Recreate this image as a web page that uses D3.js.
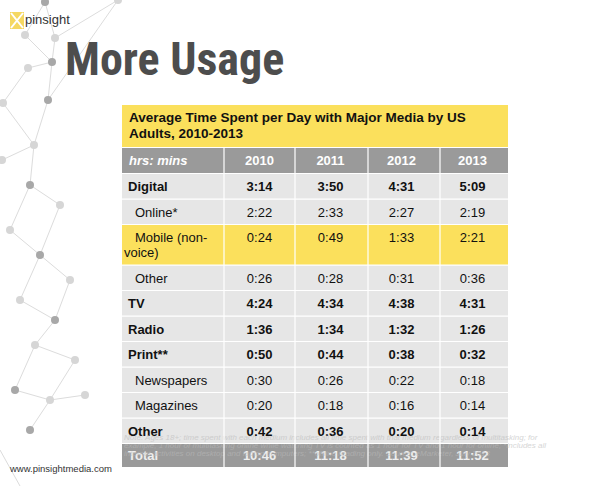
<!DOCTYPE html>
<html><head><meta charset="utf-8">
<script src="https://cdn.jsdelivr.net/npm/d3@7"></script>
<style>body{margin:0;background:#fff}svg{display:block}</style>
</head><body>
<script>
// table data
var years = ['2010', '2011', '2012', '2013'];
var rowLabels = ['Digital', 'Online*', 'Mobile (non-\nvoice)', 'Other', 'TV', 'Radio', 'Print**', 'Newspapers', 'Magazines', 'Other'];
var rowBold = [true, false, false, false, true, true, true, false, false, true];
var rowIndent = [false, true, true, true, false, false, false, true, true, false];
var rowValues = [
  ['3:14', '3:50', '4:31', '5:09'],
  ['2:22', '2:33', '2:27', '2:19'],
  ['0:24', '0:49', '1:33', '2:21'],
  ['0:26', '0:28', '0:31', '0:36'],
  ['4:24', '4:34', '4:38', '4:31'],
  ['1:36', '1:34', '1:32', '1:26'],
  ['0:50', '0:44', '0:38', '0:32'],
  ['0:30', '0:26', '0:22', '0:18'],
  ['0:20', '0:18', '0:16', '0:14'],
  ['0:42', '0:36', '0:20', '0:14']
];
var totals = ['10:46', '11:18', '11:39', '11:52'];

var W = 599, H = 486;
var svg = d3.select('body').append('svg').attr('width', W).attr('height', H);
var font = 'Helvetica, "Liberation Sans", Arial, sans-serif';

// decorative network in the background
var nodes = [[45,2],[25,35],[55,38],[52,62],[28,68],[3,103],[48,100],[34,145],[2,160],[30,185],[60,205],[10,230],[40,255],[70,280],[20,300],[55,320],[35,345],[75,360],[15,390],[50,400],[85,395],[30,430],[118,0]];
var links = [[0,1],[0,2],[1,3],[2,3],[3,4],[4,5],[3,6],[6,7],[5,7],[7,8],[7,9],[9,10],[9,11],[10,12],[11,12],[12,13],[12,14],[13,15],[14,15],[15,16],[16,17],[16,18],[17,19],[18,19],[19,20],[19,21],[2,22],[6,22]];
var deco = svg.append('g');
deco.selectAll('line').data(links).join('line')
  .attr('x1', function (d) { return nodes[d[0]][0]; }).attr('y1', function (d) { return nodes[d[0]][1]; })
  .attr('x2', function (d) { return nodes[d[1]][0]; }).attr('y2', function (d) { return nodes[d[1]][1]; })
  .attr('stroke', '#dcdcdc').attr('stroke-width', 1);
deco.selectAll('circle').data(nodes).join('circle')
  .attr('cx', function (d) { return d[0]; }).attr('cy', function (d) { return d[1]; })
  .attr('r', 4).attr('fill', function (d, i) { return i % 3 ? '#d6d6d6' : '#a8a8a8'; });
deco.append('line').attr('x1', 0).attr('y1', 450).attr('x2', 20).attr('y2', 486).attr('stroke', '#dcdcdc');

// logo
svg.append('rect').attr('x', 10).attr('y', 12).attr('width', 14).attr('height', 17).attr('fill', '#f5d862');
svg.append('path').attr('d', 'M11,13 L23,28 M23,13 L11,28').attr('stroke', '#fff').attr('stroke-width', 2);
svg.append('text').attr('x', 25).attr('y', 24).attr('font-family', font).attr('font-size', 13)
  .attr('fill', '#333').text('pinsight');

svg.append('text').attr('x', 65).attr('y', 75)
  .attr('font-family', '"Liberation Sans Narrow", "Roboto Condensed", "DejaVu Sans Condensed", sans-serif')
  .attr('font-weight', 'bold').attr('font-size', 46).attr('fill', '#4d4d4d').text('More Usage');

svg.append('text').attr('x', 10).attr('y', 472).attr('font-family', font).attr('font-size', 9.5)
  .attr('fill', '#333').text('www.pinsightmedia.com');

// table geometry
var left = 122, right = 508;
var colEdges = [left, 224, 295, 368, 440, right];
var x = d3.scaleBand().domain(years).range([224, right]);
var rowH = rowLabels.map(function (l) { return l.indexOf('\n') >= 0 ? 40 : 25; });
var tops = [];
var acc = 174;
rowH.forEach(function (h) { tops.push(acc); acc += h + 0.5; });

svg.append('rect').attr('x', left).attr('y', 105).attr('width', right - left).attr('height', 42).attr('fill', '#fbe05c');
svg.append('text').attr('font-family', font).attr('font-weight', 'bold').attr('font-size', 13.5).attr('fill', '#111')
  .selectAll('tspan').data(['Average Time Spent per Day with Major Media by US', 'Adults, 2010-2013']).join('tspan')
  .attr('x', 129).attr('y', function (d, i) { return 122 + i * 16; }).text(function (d) { return d; });

// header
svg.append('rect').attr('x', left).attr('y', 148).attr('width', right - left).attr('height', 25).attr('fill', '#9a9a9a');
svg.append('text').attr('x', 129).attr('y', 165).attr('font-family', font).attr('font-weight', 'bold')
  .attr('font-style', 'italic').attr('font-size', 13).attr('fill', '#fff').text('hrs: mins');
svg.selectAll('.yr').data(years).join('text').attr('class', 'yr')
  .attr('x', function (d) { return x(d) + x.bandwidth() / 2; }).attr('y', 165).attr('text-anchor', 'middle')
  .attr('font-family', font).attr('font-weight', 'bold').attr('font-size', 13).attr('fill', '#fff').text(function (d) { return d; });

// body rows
var rows = svg.selectAll('.row').data(rowLabels).join('g').attr('class', 'row');
rows.append('rect').attr('x', left).attr('y', function (d, i) { return tops[i]; })
  .attr('width', right - left).attr('height', function (d, i) { return rowH[i]; })
  .attr('fill', function (d, i) { return i === 2 ? '#fbe05c' : '#e6e6e6'; });
rows.append('text').attr('font-family', font).attr('font-size', 13).attr('fill', '#111')
  .attr('font-weight', function (d, i) { return rowBold[i] ? 'bold' : 'normal'; })
  .each(function (d, i) {
    var parts = d.split('\n');
    var t = d3.select(this);
    parts.forEach(function (p, k) {
      t.append('tspan').attr('x', k ? 124 : (rowIndent[i] ? 135 : 128))
        .attr('y', tops[i] + 17 + k * 15).text(p);
    });
  });
rows.each(function (d, i) {
  d3.select(this).selectAll('.v').data(rowValues[i]).join('text').attr('class', 'v')
    .attr('x', function (v, j) { return x(years[j]) + x.bandwidth() / 2; })
    .attr('y', tops[i] + 17).attr('text-anchor', 'middle')
    .attr('font-family', font).attr('font-size', 13).attr('fill', '#111')
    .attr('font-weight', rowBold[i] ? 'bold' : 'normal').text(function (v) { return v; });
});

// total
var totTop = acc;
svg.append('rect').attr('x', left).attr('y', totTop).attr('width', right - left).attr('height', 23).attr('fill', '#9a9a9a');
svg.append('text').attr('x', 128).attr('y', totTop + 16).attr('font-family', font).attr('font-weight', 'bold')
  .attr('font-size', 13).attr('fill', '#eee').text('Total');
svg.selectAll('.tot').data(totals).join('text').attr('class', 'tot')
  .attr('x', function (d, j) { return x(years[j]) + x.bandwidth() / 2; }).attr('y', totTop + 16).attr('text-anchor', 'middle')
  .attr('font-family', font).attr('font-weight', 'bold').attr('font-size', 13).attr('fill', '#eee').text(function (d) { return d; });

// faint footnote overlay
svg.append('text').attr('font-family', font).attr('font-style', 'italic').attr('font-size', 8).attr('fill', '#bbb').attr('opacity', 0.6)
  .selectAll('tspan').data([
    'Note: Ages 18+; time spent with each medium includes all time spent with that medium regardless of multitasking; for',
    'example, 1 hour of multitasking online while watching TV is counted as 1 hour for TV and 1 hour for online; *includes all',
    'internet activities on desktop and laptop computers; **offline reading only. Source: eMarketer, July 2013'
  ]).join('tspan').attr('x', 124).attr('y', function (d, i) { return totTop - 4 + i * 8; }).text(function (d) { return d; });

// cell borders
svg.selectAll('.vline').data(colEdges.slice(1, -1)).join('line').attr('class', 'vline')
  .attr('x1', function (d) { return d; }).attr('x2', function (d) { return d; })
  .attr('y1', 148).attr('y2', totTop + 23).attr('stroke', '#fff').attr('stroke-width', 1.2);
svg.selectAll('.hline').data(tops.concat([totTop])).join('line').attr('class', 'hline')
  .attr('x1', left).attr('x2', right).attr('y1', function (d) { return d - 0.5; }).attr('y2', function (d) { return d - 0.5; })
  .attr('stroke', '#fff').attr('stroke-width', 1.2);
</script>
</body></html>
